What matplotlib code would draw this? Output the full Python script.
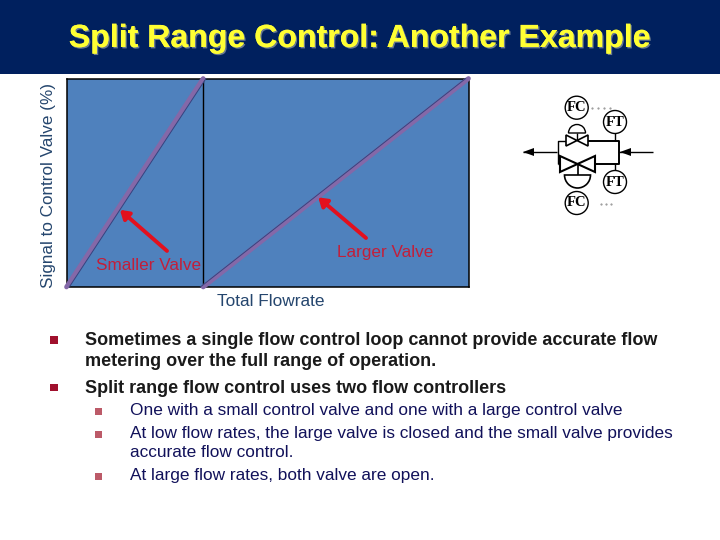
import matplotlib
matplotlib.use("Agg")
import matplotlib.pyplot as plt
import matplotlib.patheffects as pe
from matplotlib.patches import Circle, Rectangle, Polygon, Wedge

plt.rcParams['font.family'] = ['Liberation Sans', 'DejaVu Sans']

W, H = 720, 540

# valve curves: total flow (%) vs signal (%)
small_flow = [0, 34]
small_signal = [0, 100]
large_flow = [34, 100]
large_signal = [0, 100]
split_flow = 34

title = "Split Range Control: Another Example"
ylabel = "Signal to Control Valve (%)"
xlabel = "Total Flowrate"
main_lines = [
    ("Sometimes a single flow control loop cannot provide accurate flow", 345),
    ("metering over the full range of operation.", 366),
    ("Split range flow control uses two flow controllers", 393),
]
sub_lines = [
    ("One with a small control valve and one with a large control valve", 415),
    ("At low flow rates, the large valve is closed and the small valve provides", 438),
    ("accurate flow control.", 457),
    ("At large flow rates, both valve are open.", 480),
]

NAVY = "#00205E"
BLUE = "#4F81BD"
PURPLE = "#8468A8"
RED = "#E3101E"
LABEL_RED = "#C21F3A"
LABEL_DARK = "#25466E"

fig = plt.figure(figsize=(W / 100, H / 100), dpi=100)

# pixel overlay for the slide furniture
bg = fig.add_axes([0, 0, 1, 1])
bg.set_xlim(0, W)
bg.set_ylim(H, 0)
bg.axis("off")
bg.add_patch(Rectangle((0, 0), W, 74, color=NAVY, lw=0))

# chart
left, right, top, bottom = 66.5, 468.5, 78.5, 287
ax = fig.add_axes([left / W, 1 - bottom / H, (right - left) / W, (bottom - top) / H])
ax.set_facecolor(BLUE)
ax.set_xlim(0, 100)
ax.set_ylim(0, 100)
ax.set_xticks([])
ax.set_yticks([])
for s in ax.spines.values():
    s.set_linewidth(1.1)
    s.set_color("black")
ax.axvline(split_flow, color="black", lw=1.0)

ax.plot(small_flow, small_signal, color=PURPLE, lw=3.4, solid_capstyle="round", clip_on=False, zorder=3)
ax.plot([v + 0.7 for v in small_flow], small_signal, color="#35437F", lw=0.7, zorder=4, clip_on=False)
ax.plot(large_flow, large_signal, color=PURPLE, lw=3.4, solid_capstyle="round", clip_on=False, zorder=3)
ax.plot([v - 0.7 for v in large_flow], large_signal, color="#35437F", lw=0.7, zorder=4, clip_on=False)

arrow_style = dict(arrowstyle="-|>,head_length=0.5,head_width=0.32", color=RED, lw=2.8, shrinkA=0, shrinkB=0)
ax.annotate("", xy=(13.3, 37), xytext=(25, 17.3), arrowprops=arrow_style)
ax.annotate("", xy=(62.6, 43), xytext=(74.5, 23.5), arrowprops=arrow_style)

fg = fig.add_axes([0, 0, 1, 1])
fg.set_xlim(0, W)
fg.set_ylim(H, 0)
fg.axis("off")
fg.patch.set_alpha(0)

fg.text(360, 47, title, color="#FFFF33", fontsize=23.1, fontweight="bold", ha="center", va="baseline",
        path_effects=[pe.withSimplePatchShadow(offset=(1, -1), shadow_rgbFace="#6A7A90", alpha=1.0), pe.Normal()])

fg.text(49, 185.5, ylabel, color=LABEL_DARK, fontsize=12.3, rotation=90, ha="center", va="center")
fg.text(271, 301, xlabel, color=LABEL_DARK, fontsize=12.4, ha="center", va="center")
fg.text(149, 265, "Smaller Valve", color=LABEL_RED, fontsize=12.3, ha="center", va="center")
fg.text(385, 253, "Larger Valve", color=LABEL_RED, fontsize=12.3, ha="center", va="center")


# schematic
def line(xs, ys, lw=1.2):
    fg.plot(xs, ys, color="black", lw=lw, solid_capstyle="butt", zorder=2)


line([523, 557], [152, 152], 1.0)
line([619, 653], [152, 152], 1.0)
line([557.5, 557.5, 566], [164, 141, 141], 1.0)
line([588, 619, 619, 595], [141, 141, 164, 164], 1.4)
line([557.5, 560], [164, 164], 1.0)
fg.add_patch(Polygon([(523, 152), (534, 148), (534, 156)], color="black", lw=0))
fg.add_patch(Polygon([(620, 152), (631, 148), (631, 156)], color="black", lw=0))
for (x0, x1, y0, y1, lw) in [(566, 588, 135, 146, 1.2), (560, 595, 156, 172, 1.5)]:
    xm = (x0 + x1) / 2
    ym = (y0 + y1) / 2
    fg.add_patch(Polygon([(x0, y0), (xm, ym), (x0, y1)], fc="white", ec="black", lw=lw, zorder=3))
    fg.add_patch(Polygon([(x1, y0), (xm, ym), (x1, y1)], fc="white", ec="black", lw=lw, zorder=3))
line([577, 577], [133, 140], 1.0)
line([577.5, 577.5], [164, 175], 1.2)
fg.add_patch(Wedge((577, 133), 8.5, 180, 360, fc="white", ec="black", lw=1.0, zorder=3))
fg.add_patch(Wedge((577.5, 175), 13, 0, 180, fc="white", ec="black", lw=1.2, zorder=3))
line([615, 615], [133, 141], 1.0)
line([615, 615], [164, 171], 1.0)
for cx, cy, name in [(576.7, 107.7, "FC"), (615, 122, "FT"), (615, 182, "FT"), (576.7, 203, "FC")]:
    fg.add_patch(Circle((cx, cy), 11.5, fc="white", ec="black", lw=1.0, zorder=3))
    fg.text(cx, cy, name, family=["Liberation Serif"], fontweight="bold", fontsize=10.5,
            ha="center", va="center", zorder=4)
fg.plot([592, 598, 604, 610], [108] * 4, ".", color="#888888", ms=1.0)
fg.plot([601, 606, 611], [204] * 3, ".", color="#888888", ms=1.0)

# bullets
for x, y in [(54, 340), (54, 387.5)]:
    fg.add_patch(Rectangle((x - 3.8, y - 3.8), 7.6, 7.6, color="#A0102D", lw=0))
for x, y in [(98.5, 411), (98.5, 434), (98.5, 476)]:
    fg.add_patch(Rectangle((x - 3.5, y - 3.5), 7, 7, color="#BC5A68", lw=0))

for txt, y in main_lines:
    fg.text(85, y, txt, color="#1A1A1A", fontsize=12.95, fontweight="bold", ha="left", va="baseline")
for txt, y in sub_lines:
    fg.text(130, y, txt, color="#11115A", fontsize=12.42, ha="left", va="baseline")

fig.savefig("out.png", dpi=100)
